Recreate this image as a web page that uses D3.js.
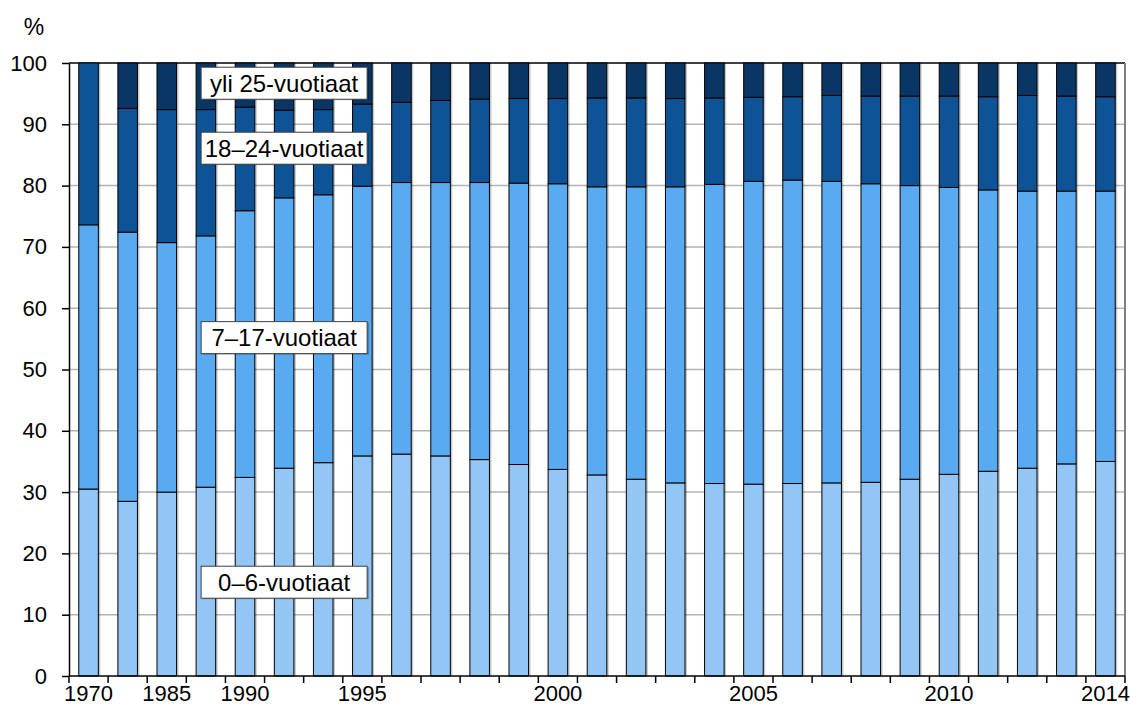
<!DOCTYPE html>
<html>
<head>
<meta charset="utf-8">
<script src="https://cdn.jsdelivr.net/npm/d3@7"></script>
<style>
  body { margin: 0; background: #fff; }
  svg { font-family: "Liberation Sans", Arial, sans-serif; }
</style>
</head>
<body>
<div id="chart"></div>
<script>
// vuodet (osa jätetään ilman nimiötä kuten alkuperäisessä)
const years = ["1970","1980","1985","1988","1990","1992","1994",
  "1995","1996","1997","1998","1999","2000","2001","2002","2003","2004",
  "2005","2006","2007","2008","2009","2010","2011","2012","2013","2014"];
const tickLabels = ["1970","1985","1990","1995","2000","2005","2010","2014"];

// osuudet, %
const age0_6 = [30.5,28.5,30.0,30.8,32.4,33.9,34.8,35.9,36.2,35.9,35.3,34.5,33.7,32.8,32.1,31.5,31.4,31.3,31.4,31.5,31.6,32.1,32.9,33.4,33.9,34.6,35.0];
const age7_17 = [43.1,43.9,40.7,41.0,43.5,44.1,43.7,44.0,44.3,44.6,45.2,45.9,46.6,47.0,47.7,48.3,48.8,49.4,49.5,49.2,48.7,47.9,46.8,45.9,45.2,44.5,44.1];
const age18_24 = [26.4,20.2,21.7,20.6,16.9,14.3,13.9,13.4,13.1,13.4,13.6,13.8,13.9,14.5,14.5,14.4,14.1,13.7,13.6,14.0,14.3,14.6,14.9,15.2,15.6,15.5,15.4];
const age25 = [0,7.4,7.6,7.6,7.2,7.7,7.6,6.7,6.4,6.1,5.9,5.8,5.8,5.7,5.7,5.8,5.7,5.6,5.5,5.3,5.4,5.4,5.4,5.5,5.3,5.4,5.5];

const seriesKeys = ["a", "b", "c", "d"];
const seriesNames = ["0–6-vuotiaat", "7–17-vuotiaat", "18–24-vuotiaat", "yli 25-vuotiaat"];
const colors = ["#94c6f5", "#5aaaf2", "#0d5396", "#093664"];
// nimiöiden paikka arvoasteikolla
const labelY = [15.3, 55.2, 86.1, 96.7];

const width = 1138, height = 706;
const margin = {top: 63, right: 13, bottom: 30, left: 69};

const table = years.map((y, i) => ({year: y, a: age0_6[i], b: age7_17[i], c: age18_24[i], d: age25[i]}));
const stacked = d3.stack().keys(seriesKeys)(table);

const svg = d3.select("#chart").append("svg")
  .attr("width", width)
  .attr("height", height);

const x = d3.scaleBand()
  .domain(years)
  .range([margin.left, width - margin.right])
  .paddingInner(0.5)
  .paddingOuter(0.25);

const y = d3.scaleLinear()
  .domain([0, 100])
  .range([height - margin.bottom, margin.top]);

// gridlines
svg.append("g")
  .selectAll("line")
  .data(d3.range(10, 100, 10))
  .join("line")
  .attr("x1", margin.left)
  .attr("x2", width - margin.right)
  .attr("y1", d => y(d))
  .attr("y2", d => y(d))
  .attr("stroke", "#b4b4b4")
  .attr("stroke-width", 1.5);

// top and right frame
svg.append("line")
  .attr("x1", margin.left).attr("x2", width - margin.right)
  .attr("y1", y(100)).attr("y2", y(100))
  .attr("stroke", "#000").attr("stroke-width", 1.5);
svg.append("line")
  .attr("x1", width - margin.right).attr("x2", width - margin.right)
  .attr("y1", y(100)).attr("y2", y(0))
  .attr("stroke", "#808080").attr("stroke-width", 2);

// bar shadows
svg.append("g")
  .selectAll("rect")
  .data(table)
  .join("rect")
  .attr("x", d => x(d.year) + 2)
  .attr("y", y(100))
  .attr("width", x.bandwidth())
  .attr("height", y(0) - y(100))
  .attr("fill", "#000")
  .attr("opacity", 0.22);

// stacked bars
svg.append("g")
  .selectAll("g")
  .data(stacked)
  .join("g")
  .attr("fill", (d, i) => colors[i])
  .selectAll("rect")
  .data(d => d.filter(v => v[1] - v[0] > 0))
  .join("rect")
  .attr("x", d => x(d.data.year))
  .attr("y", d => y(d[1]))
  .attr("width", x.bandwidth())
  .attr("height", d => y(d[0]) - y(d[1]))
  .attr("stroke", "#000")
  .attr("stroke-width", 1);

// y axis
const yAxis = svg.append("g")
  .attr("transform", `translate(${margin.left},0)`)
  .call(d3.axisLeft(y).tickValues(d3.range(0, 101, 10)).tickSize(7).tickSizeOuter(0).tickPadding(15));
yAxis.select(".domain").attr("stroke", "#000").attr("stroke-width", 1.5);
yAxis.selectAll(".tick line").attr("stroke", "#000").attr("stroke-width", 1.5);
yAxis.selectAll("text").attr("font-size", 22).attr("fill", "#000")
  .attr("font-family", "Liberation Sans, Arial, sans-serif");

svg.append("text")
  .attr("x", 34)
  .attr("y", 35)
  .attr("text-anchor", "middle")
  .attr("font-size", 23)
  .text("%");

// x axis
const step = x.step();
const bounds = years.map(d => x(d) - step * 0.25).concat([width - margin.right]);
svg.append("line")
  .attr("x1", margin.left).attr("x2", width - margin.right)
  .attr("y1", y(0)).attr("y2", y(0))
  .attr("stroke", "#000").attr("stroke-width", 1.5);
svg.append("g")
  .selectAll("line")
  .data(bounds)
  .join("line")
  .attr("x1", d => d).attr("x2", d => d)
  .attr("y1", y(0)).attr("y2", y(0) + 7)
  .attr("stroke", "#000").attr("stroke-width", 1.5);
svg.append("g")
  .selectAll("text")
  .data(tickLabels)
  .join("text")
  .attr("x", d => x(d) + x.bandwidth() / 2)
  .attr("y", y(0) + 25)
  .attr("text-anchor", "middle")
  .attr("font-size", 22)
  .text(d => d);

// series labels
const lx = x("1992") + x.bandwidth() / 2;
const labels = svg.append("g")
  .selectAll("g")
  .data(seriesNames)
  .join("g")
  .attr("transform", (d, i) => `translate(${lx},${y(labelY[i])})`);
labels.append("rect")
  .attr("x", -81).attr("y", -15)
  .attr("width", 166).attr("height", 32)
  .attr("fill", "#000").attr("opacity", 0.25);
labels.append("rect")
  .attr("x", -83).attr("y", -16)
  .attr("width", 166).attr("height", 32)
  .attr("fill", "#fff")
  .attr("stroke", "#404040")
  .attr("stroke-width", 1);
labels.append("text")
  .attr("text-anchor", "middle")
  .attr("y", 8.5)
  .attr("font-size", 24)
  .text(d => d);
</script>
</body>
</html>
